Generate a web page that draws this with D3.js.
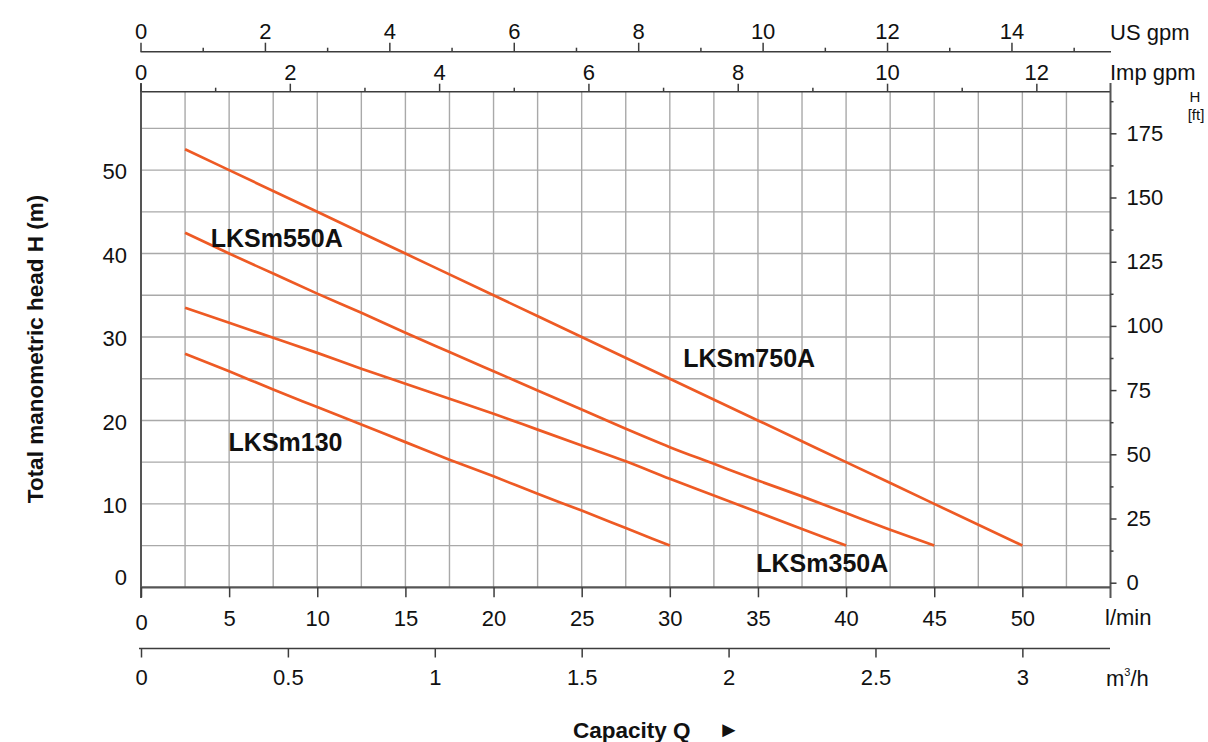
<!DOCTYPE html>
<html><head><meta charset="utf-8">
<script src="https://cdn.jsdelivr.net/npm/d3@7"></script>
<style>
body{margin:0;background:#fff}
svg{display:block}
text{font-family:"Liberation Sans",Arial,Helvetica,sans-serif;fill:#111}
</style>
</head><body>
<svg id="chart" width="1208" height="742"></svg>
<script>
// ---------- data (flow in l/min, head in m) ----------
const seriesNames = ["LKSm750A", "LKSm550A", "LKSm350A", "LKSm130"];
const q750 = [2.5, 5, 10, 15, 20, 25, 30, 35, 40, 45, 50];
const h750 = [52.5, 50, 45, 40, 35, 30, 25, 20, 15, 10, 5];
const q550 = [2.5, 5, 7.5, 10, 12.5, 15, 17.5, 20, 22.5, 25, 27.5, 30, 32.5, 35, 37.5, 40, 42.5, 45];
const h550 = [42.5, 40.0, 37.6, 35.2, 32.9, 30.5, 28.2, 25.9, 23.6, 21.3, 19.0, 16.8, 14.8, 12.8, 10.9, 8.9, 6.9, 5.0];
const q350 = [2.5, 5, 7.5, 10, 12.5, 15, 17.5, 20, 22.5, 25, 27.5, 30, 32.5, 35, 37.5, 40];
const h350 = [33.5, 31.7, 29.9, 28.1, 26.2, 24.4, 22.6, 20.8, 18.9, 17.0, 15.1, 13.0, 11.0, 9.0, 7.0, 5.0];
const q130 = [2.5, 5, 7.5, 10, 12.5, 15, 17.5, 20, 22.5, 25, 27.5, 30];
const h130 = [28.0, 25.9, 23.7, 21.6, 19.5, 17.4, 15.3, 13.3, 11.2, 9.2, 7.1, 5.0];

// curve label anchors (l/min, m)
const labelQ = [34.5, 7.7, 38.65, 8.2];
const labelH = [27.5, 41.9, 2.9, 17.4];

// axis ticks
const lminTicks = [0, 5, 10, 15, 20, 25, 30, 35, 40, 45, 50];
const m3hTicks = [0, 0.5, 1, 1.5, 2, 2.5, 3];
const headTicks = [0, 10, 20, 30, 40, 50];
const ftTicks = [0, 25, 50, 75, 100, 125, 150, 175];
const ftMinor = [12.5, 37.5, 62.5, 87.5, 112.5, 137.5, 162.5, 187.5];
const usTicks = [0, 2, 4, 6, 8, 10, 12, 14];
const usMinor = [1, 3, 5, 7, 9, 11, 13, 15];
const impTicks = [0, 2, 4, 6, 8, 10, 12];
const impMinor = [1, 3, 5, 7, 9, 11];

// ---------- layout ----------
const svg = d3.select("#chart");
const L = 141, R = 1110.5, T = 91.7, B = 587.3;
const x = d3.scaleLinear().domain([0, 55]).range([L, R]);
const y = d3.scaleLinear().domain([0, 59.4]).range([B, T]);
const xM3 = d3.scaleLinear().domain([0, 55 * 0.06]).range([L, R]);
const yFt = d3.scaleLinear().domain([0, 191.2]).range([582.7, T]);
const xUS = d3.scaleLinear().domain([0, 15.6]).range([140.5, 1111]);
const xImp = d3.scaleLinear().domain([0, 13]).range([140.5, 1111]);

const FS = 22;
const gridColor = "#a9a9a9";
const axisColor = "#3c3c3c";
const curveColor = "#ee5a24";

// grid
const gGrid = svg.append("g");
gGrid.selectAll("line.v").data(d3.range(2.5, 55, 2.5)).join("line")
  .attr("x1", d => x(d)).attr("x2", d => x(d)).attr("y1", T).attr("y2", B)
  .attr("stroke", gridColor).attr("stroke-width", 1.4);
gGrid.selectAll("line.h").data(d3.range(5, 59, 5)).join("line")
  .attr("x1", L).attr("x2", R).attr("y1", d => y(d)).attr("y2", d => y(d))
  .attr("stroke", gridColor).attr("stroke-width", 1.4);

// frame
svg.append("line").attr("x1", L).attr("x2", R).attr("y1", B).attr("y2", B)
  .attr("stroke", "#555").attr("stroke-width", 2.2);
svg.append("line").attr("x1", L).attr("x2", R).attr("y1", T).attr("y2", T)
  .attr("stroke", axisColor).attr("stroke-width", 1.6);
svg.append("line").attr("x1", L).attr("x2", L).attr("y1", 83).attr("y2", 598)
  .attr("stroke", "#555").attr("stroke-width", 2);
svg.append("line").attr("x1", R).attr("x2", R).attr("y1", 83).attr("y2", 598)
  .attr("stroke", "#555").attr("stroke-width", 2);

function styleAxis(g) {
  g.select(".domain").remove();
  g.selectAll(".tick line").attr("stroke", axisColor).attr("stroke-width", 1.5);
  g.selectAll(".tick text").attr("font-size", FS).attr("fill", "#111")
    .attr("font-family", '"Liberation Sans",Arial,sans-serif');
}

// bottom l/min axis
const gLmin = svg.append("g").attr("transform", `translate(0,${B})`)
  .call(d3.axisBottom(x).tickValues(lminTicks).tickSize(10).tickPadding(13.5).tickFormat(d3.format("d")))
  .call(styleAxis);
gLmin.selectAll(".tick text").filter(d => d === 0).attr("dy", "0.87em");
svg.append("text").attr("x", 1105).attr("y", 624.5).attr("font-size", FS).text("l/min");

// bottom m3/h axis
const yM3 = 648.5;
svg.append("line").attr("x1", 139).attr("x2", 1110).attr("y1", yM3).attr("y2", yM3)
  .attr("stroke", axisColor).attr("stroke-width", 1.6);
svg.append("g").attr("transform", `translate(0,${yM3})`)
  .call(d3.axisBottom(xM3).tickValues(m3hTicks).tickSize(9).tickPadding(12).tickFormat(d => String(d)))
  .call(styleAxis);
const m3 = svg.append("text").attr("x", 1106).attr("y", 686).attr("font-size", FS);
m3.append("tspan").text("m");
m3.append("tspan").attr("font-size", 11).attr("dy", -10).text("3");
m3.append("tspan").attr("dy", 10).text("/h");

// left head axis (labels only)
const gLeft = svg.append("g").attr("transform", `translate(${L},0)`)
  .call(d3.axisLeft(y).tickValues(headTicks).tickSize(0).tickPadding(14).tickFormat(d3.format("d")))
  .call(styleAxis);
gLeft.selectAll(".tick text").attr("dy", d => d === 0 ? "-0.12em" : "0.4em");

// right ft axis
svg.append("g").attr("transform", `translate(${R},0)`)
  .call(d3.axisRight(yFt).tickValues(ftTicks).tickSize(6).tickPadding(10).tickFormat(d3.format("d")))
  .call(styleAxis);
svg.append("g").attr("transform", `translate(${R},0)`)
  .call(d3.axisRight(yFt).tickValues(ftMinor).tickSize(3).tickFormat(""))
  .call(styleAxis);
svg.append("text").attr("x", 1195).attr("y", 102).attr("text-anchor", "middle")
  .attr("font-size", 15).style("fill", "#111").text("H");
svg.append("text").attr("x", 1196).attr("y", 120).attr("text-anchor", "middle")
  .attr("font-size", 15).style("fill", "#111").text("[ft]");

// top US gpm axis
const yUS = 51.7;
svg.append("line").attr("x1", xUS(0)).attr("x2", xUS(15.6)).attr("y1", yUS).attr("y2", yUS)
  .attr("stroke", axisColor).attr("stroke-width", 1.6);
svg.append("g").attr("transform", `translate(0,${yUS})`)
  .call(d3.axisTop(xUS).tickValues(usTicks).tickSize(9).tickPadding(3.5).tickFormat(d3.format("d")))
  .call(styleAxis);
svg.append("g").attr("transform", `translate(0,${yUS})`)
  .call(d3.axisTop(xUS).tickValues(usMinor).tickSize(4).tickFormat(""))
  .call(styleAxis);
svg.append("text").attr("x", 1110).attr("y", 39.5).attr("font-size", FS).text("US gpm");

// top Imp gpm axis
const yImp = T;
svg.append("g").attr("transform", `translate(0,${yImp})`)
  .call(d3.axisTop(xImp).tickValues(impTicks).tickSize(8).tickPadding(3.5).tickFormat(d3.format("d")))
  .call(styleAxis);
svg.append("g").attr("transform", `translate(0,${yImp})`)
  .call(d3.axisTop(xImp).tickValues(impMinor).tickSize(4).tickFormat(""))
  .call(styleAxis);
svg.append("text").attr("x", 1110).attr("y", 79.5).attr("font-size", FS).text("Imp gpm");

// curves
const qs = [q750, q550, q350, q130];
const hs = [h750, h550, h350, h130];
const line = d3.line().x(d => x(d[0])).y(d => y(d[1])).curve(d3.curveMonotoneX);
seriesNames.forEach((name, i) => {
  const pts = qs[i].map((q, j) => [q, hs[i][j]]);
  svg.append("path").datum(pts).attr("d", line)
    .attr("fill", "none").attr("stroke", curveColor).attr("stroke-width", 2.7);
});

// curve labels
seriesNames.forEach((name, i) => {
  svg.append("text").attr("x", x(labelQ[i])).attr("y", y(labelH[i]))
    .attr("text-anchor", "middle").attr("dominant-baseline", "central")
    .attr("font-family", '"Noto Sans",sans-serif').attr("font-weight", 700)
    .attr("font-size", 25).attr("fill", "#111").text(name);
});

// axis titles
svg.append("text").attr("transform", "translate(35,349) rotate(-90)")
  .attr("text-anchor", "middle").attr("dominant-baseline", "central")
  .attr("font-weight", 700).attr("font-size", 22.5).text("Total manometric head H (m)");
svg.append("text").attr("x", 573).attr("y", 738).attr("font-weight", 700).attr("font-size", 22.5)
  .text("Capacity Q");
svg.append("text").attr("x", 718).attr("y", 737).attr("font-weight", 700).attr("font-size", 22)
  .text("►");
</script>
</body></html>
